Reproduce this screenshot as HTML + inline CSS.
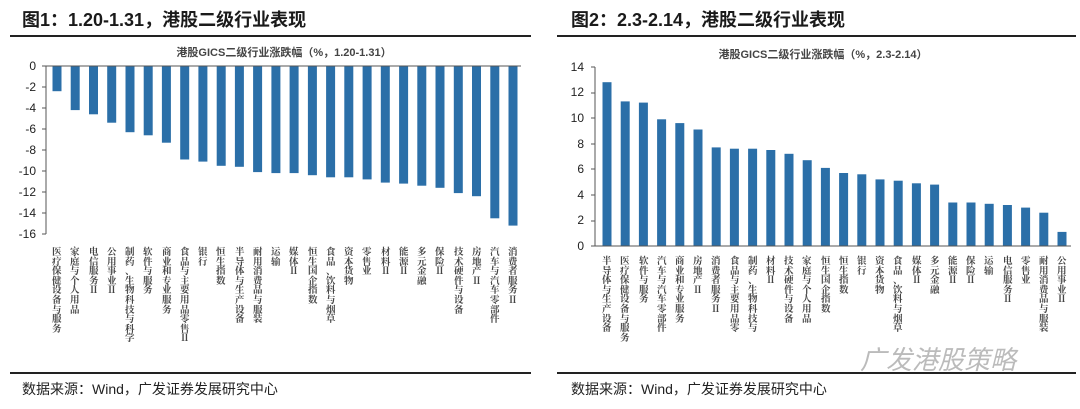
<!DOCTYPE html>
<html><head><meta charset="utf-8"><style>
body{margin:0;width:1080px;height:409px;background:#fff;position:relative;overflow:hidden;font-family:"Liberation Sans","Noto Sans CJK SC",sans-serif;}
.t{position:absolute;font-weight:bold;font-size:18px;color:#1a1a1a;top:6px;}
.s{position:absolute;font-size:14px;color:#222;top:379px;}
.l{position:absolute;font-size:9.5px;color:#444;width:1px;line-height:9.6px;word-break:break-all;overflow-wrap:anywhere;text-align:left;font-family:"Noto Serif CJK SC","Liberation Serif",serif;font-weight:bold;}
</style></head><body>
<div class="t" style="left:22px">图1：1.20-1.31，港股二级行业表现</div>
<div class="t" style="left:571px">图2：2.3-2.14，港股二级行业表现</div>
<div class="s" style="left:22px">数据来源：Wind，广发证券发展研究中心</div>
<div class="s" style="left:571px">数据来源：Wind，广发证券发展研究中心</div>
<svg width="1080" height="409" style="position:absolute;left:0;top:0">
<line x1="10" y1="36" x2="531" y2="36" stroke="#222" stroke-width="2"/>
<line x1="557" y1="36" x2="1076" y2="36" stroke="#222" stroke-width="2"/>
<line x1="10" y1="373" x2="531" y2="373" stroke="#222" stroke-width="2"/>
<line x1="557" y1="373" x2="1076" y2="373" stroke="#222" stroke-width="2"/>
<g font-family="Liberation Sans,Noto Sans CJK SC,sans-serif" font-size="11" fill="#444" font-weight="bold" text-anchor="middle">
<text x="284" y="56">港股GICS二级行业涨跌幅（%，1.20-1.31）</text>
<text x="823" y="58">港股GICS二级行业涨跌幅（%，2.3-2.14）</text>
</g>
<g font-family="Liberation Sans,sans-serif" font-size="12" fill="#222" text-anchor="end">
<text x="36" y="70">0</text><text x="36" y="91">-2</text><text x="36" y="112">-4</text><text x="36" y="133">-6</text><text x="36" y="154">-8</text><text x="36" y="175">-10</text><text x="36" y="196">-12</text><text x="36" y="217">-14</text><text x="36" y="238">-16</text>
<text x="584" y="250">0</text><text x="584" y="224">2</text><text x="584" y="199">4</text><text x="584" y="173">6</text><text x="584" y="148">8</text><text x="584" y="122">10</text><text x="584" y="96">12</text><text x="584" y="71">14</text>
</g>
<g fill="#2b6fa8">
<rect x="52.5" y="66" width="9" height="25.2"/><rect x="70.7" y="66" width="9" height="44.1"/><rect x="89" y="66" width="9" height="48.3"/><rect x="107.2" y="66" width="9" height="56.7"/><rect x="125.5" y="66" width="9" height="66.2"/><rect x="143.7" y="66" width="9" height="69.3"/><rect x="161.9" y="66" width="9" height="76.7"/><rect x="180.2" y="66" width="9" height="93.5"/><rect x="198.4" y="66" width="9" height="95.6"/><rect x="216.7" y="66" width="9" height="99.8"/><rect x="234.9" y="66" width="9" height="100.8"/><rect x="253.1" y="66" width="9" height="106.1"/><rect x="271.4" y="66" width="9" height="107.1"/><rect x="289.6" y="66" width="9" height="107.1"/><rect x="307.9" y="66" width="9" height="109.2"/><rect x="326.1" y="66" width="9" height="111.3"/><rect x="344.3" y="66" width="9" height="111.3"/><rect x="362.6" y="66" width="9" height="113.4"/><rect x="380.8" y="66" width="9" height="116.6"/><rect x="399.1" y="66" width="9" height="117.6"/><rect x="417.3" y="66" width="9" height="119.7"/><rect x="435.5" y="66" width="9" height="121.8"/><rect x="453.8" y="66" width="9" height="127.1"/><rect x="472" y="66" width="9" height="130.2"/><rect x="490.3" y="66" width="9" height="152.3"/><rect x="508.5" y="66" width="9" height="159.6"/>
<rect x="602.5" y="82.2" width="9" height="163.8"/><rect x="620.7" y="101.4" width="9" height="144.6"/><rect x="638.9" y="102.6" width="9" height="143.4"/><rect x="657.1" y="119.3" width="9" height="126.7"/><rect x="675.3" y="123.1" width="9" height="122.9"/><rect x="693.5" y="129.5" width="9" height="116.5"/><rect x="711.7" y="147.4" width="9" height="98.6"/><rect x="729.9" y="148.7" width="9" height="97.3"/><rect x="748.1" y="148.7" width="9" height="97.3"/><rect x="766.3" y="150" width="9" height="96"/><rect x="784.5" y="153.8" width="9" height="92.2"/><rect x="802.7" y="160.2" width="9" height="85.8"/><rect x="820.9" y="167.9" width="9" height="78.1"/><rect x="839.1" y="173" width="9" height="73"/><rect x="857.3" y="174.3" width="9" height="71.7"/><rect x="875.5" y="179.4" width="9" height="66.6"/><rect x="893.7" y="180.7" width="9" height="65.3"/><rect x="911.9" y="183.3" width="9" height="62.7"/><rect x="930.1" y="184.6" width="9" height="61.4"/><rect x="948.3" y="202.5" width="9" height="43.5"/><rect x="966.5" y="202.5" width="9" height="43.5"/><rect x="984.7" y="203.8" width="9" height="42.2"/><rect x="1002.9" y="205" width="9" height="41"/><rect x="1021.1" y="207.6" width="9" height="38.4"/><rect x="1039.3" y="212.7" width="9" height="33.3"/><rect x="1057.5" y="231.9" width="9" height="14.1"/>
</g>
<g stroke="#555" stroke-width="1" fill="none">
<path d="M46 66V234M42 66H46M42 87H46M42 108H46M42 129H46M42 150H46M42 171H46M42 192H46M42 213H46M42 234H46"/>
<path d="M46 66H521"/>
<path d="M595 67V246M591 67H595M591 93H595M591 118H595M591 144H595M591 169H595M591 195H595M591 221H595M591 246H595"/>
<path d="M595 246H1071"/>
</g>
</svg>
<div class="l" style="left:52px;top:247px">医疗保健设备与服务</div>
<div class="l" style="left:70px;top:247px">家庭与个人用品</div>
<div class="l" style="left:89px;top:247px">电信服务Ⅱ</div>
<div class="l" style="left:107px;top:247px">公用事业Ⅱ</div>
<div class="l" style="left:125px;top:247px">制药、生物科技与科学</div>
<div class="l" style="left:143px;top:247px">软件与服务</div>
<div class="l" style="left:162px;top:247px">商业和专业服务</div>
<div class="l" style="left:180px;top:247px">食品与主要用品零售Ⅱ</div>
<div class="l" style="left:198px;top:247px">银行</div>
<div class="l" style="left:216px;top:247px">恒生指数</div>
<div class="l" style="left:235px;top:247px">半导体与生产设备</div>
<div class="l" style="left:253px;top:247px">耐用消费品与服装</div>
<div class="l" style="left:271px;top:247px">运输</div>
<div class="l" style="left:289px;top:247px">媒体Ⅱ</div>
<div class="l" style="left:308px;top:247px">恒生国企指数</div>
<div class="l" style="left:326px;top:247px">食品、饮料与烟草</div>
<div class="l" style="left:344px;top:247px">资本货物</div>
<div class="l" style="left:362px;top:247px">零售业</div>
<div class="l" style="left:381px;top:247px">材料Ⅱ</div>
<div class="l" style="left:399px;top:247px">能源Ⅱ</div>
<div class="l" style="left:417px;top:247px">多元金融</div>
<div class="l" style="left:435px;top:247px">保险Ⅱ</div>
<div class="l" style="left:454px;top:247px">技术硬件与设备</div>
<div class="l" style="left:472px;top:247px">房地产Ⅱ</div>
<div class="l" style="left:490px;top:247px">汽车与汽车零部件</div>
<div class="l" style="left:508px;top:247px">消费者服务Ⅱ</div>
<div class="l" style="left:602px;top:256px">半导体与生产设备</div>
<div class="l" style="left:620px;top:256px">医疗保健设备与服务</div>
<div class="l" style="left:639px;top:256px">软件与服务</div>
<div class="l" style="left:657px;top:256px">汽车与汽车零部件</div>
<div class="l" style="left:675px;top:256px">商业和专业服务</div>
<div class="l" style="left:693px;top:256px">房地产Ⅱ</div>
<div class="l" style="left:711px;top:256px">消费者服务Ⅱ</div>
<div class="l" style="left:730px;top:256px">食品与主要用品零</div>
<div class="l" style="left:748px;top:256px">制药、生物科技与</div>
<div class="l" style="left:766px;top:256px">材料Ⅱ</div>
<div class="l" style="left:784px;top:256px">技术硬件与设备</div>
<div class="l" style="left:802px;top:256px">家庭与个人用品</div>
<div class="l" style="left:821px;top:256px">恒生国企指数</div>
<div class="l" style="left:839px;top:256px">恒生指数</div>
<div class="l" style="left:857px;top:256px">银行</div>
<div class="l" style="left:875px;top:256px">资本货物</div>
<div class="l" style="left:893px;top:256px">食品、饮料与烟草</div>
<div class="l" style="left:912px;top:256px">媒体Ⅱ</div>
<div class="l" style="left:930px;top:256px">多元金融</div>
<div class="l" style="left:948px;top:256px">能源Ⅱ</div>
<div class="l" style="left:966px;top:256px">保险Ⅱ</div>
<div class="l" style="left:984px;top:256px">运输</div>
<div class="l" style="left:1003px;top:256px">电信服务Ⅱ</div>
<div class="l" style="left:1021px;top:256px">零售业</div>
<div class="l" style="left:1039px;top:256px">耐用消费品与服装</div>
<div class="l" style="left:1057px;top:256px">公用事业Ⅱ</div>
<div style="position:absolute;left:860px;top:340px;font-size:26px;color:#bbb;font-style:italic;">广发港股策略</div>
</body></html>
